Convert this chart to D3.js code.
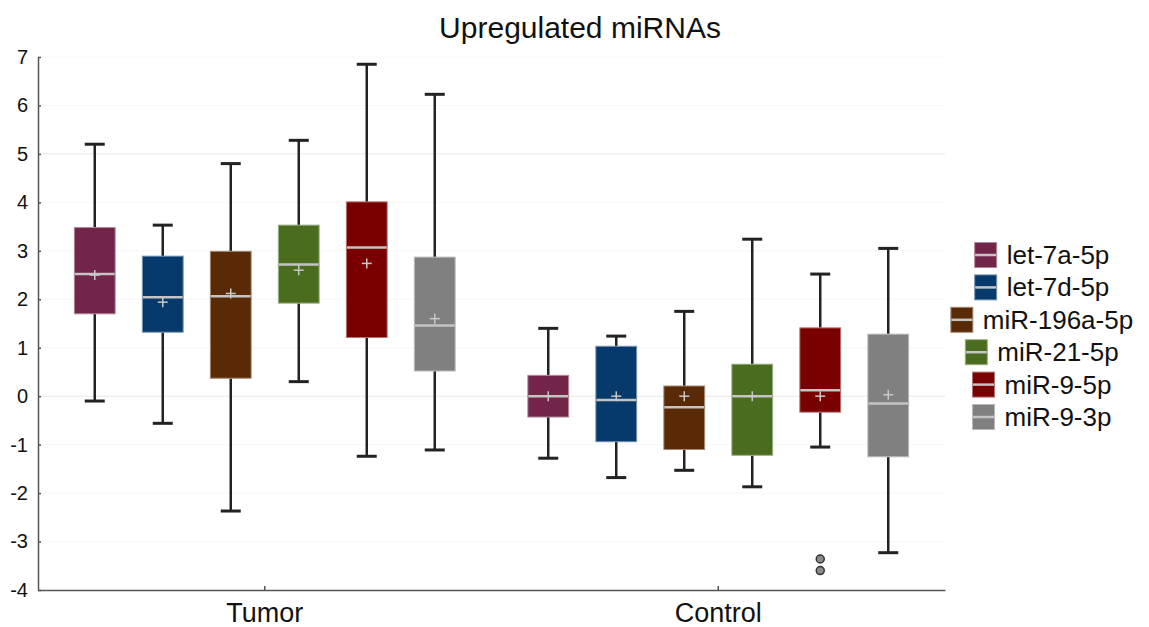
<!DOCTYPE html>
<html>
<head>
<meta charset="utf-8">
<title>Upregulated miRNAs</title>
<style>
body {
	margin: 0;
	background: #fff;
}

text {
	font-family: "Liberation Sans", Arial, sans-serif;
	fill: #111;
}

.axis path, .axis line {
	stroke: #555;
	stroke-width: 1.5px;
}

.whisker {
	stroke: #222;
	stroke-width: 2.5px;
}

.cap {
	stroke: #222;
	stroke-width: 3px;
}

.median {
	stroke: #c4c4c4;
	stroke-width: 2.5px;
}

.mean {
	stroke: #c8c8c8;
	stroke-width: 1.5px;
}
</style>
</head>
<body>
	<script type="text/javascript"
		src="https://cdn.jsdelivr.net/npm/d3@7/dist/d3.min.js"></script>
	<div id="chart"></div>
	<script type="text/javascript">
		var groups = ["Tumor", "Control"];
		var mirnas = ["let-7a-5p", "let-7d-5p", "miR-196a-5p", "miR-21-5p", "miR-9-5p", "miR-9-3p"];
		var colors = ["#722449", "#073a6c", "#592a05", "#4a6c1e", "#7a0000", "#808080"];

		// low whisker, q1, median, q3, high whisker, mean
		var tumorBoxes = [
			[-0.10, 1.70, 2.52, 3.48, 5.20, 2.50],
			[-0.56, 1.32, 2.04, 2.89, 3.53, 1.94],
			[-2.37, 0.37, 2.06, 2.99, 4.80, 2.12],
			[0.30, 1.92, 2.72, 3.53, 5.28, 2.60],
			[-1.24, 1.21, 3.07, 4.01, 6.85, 2.74],
			[-1.11, 0.52, 1.46, 2.87, 6.23, 1.60]
		];
		var controlBoxes = [
			[-1.28, -0.43, 0.00, 0.43, 1.40, 0.00],
			[-1.68, -0.94, -0.08, 1.03, 1.24, 0.00],
			[-1.53, -1.10, -0.23, 0.21, 1.75, 0.00],
			[-1.87, -1.22, 0.00, 0.66, 3.24, 0.00],
			[-1.05, -0.33, 0.12, 1.41, 2.52, 0.00],
			[-3.23, -1.25, -0.15, 1.28, 3.05, 0.03]
		];
		var outlierGroup = ["Control", "Control"];
		var outlierMirna = ["miR-9-5p", "miR-9-5p"];
		var outlierValue = [-3.36, -3.60];
		var yTicks = [-4, -3, -2, -1, 0, 1, 2, 3, 4, 5, 6, 7];

		var width = 1149, height = 627;
		var svg = d3.select("#chart").append("svg")
				.attr("width", width).attr("height", height);

		var y = d3.scaleLinear().domain([-4, 7]).range([590, 57]);
		var x = d3.scaleBand().domain(groups).range([38, 945]);
		var xs = d3.scaleBand().domain(mirnas).range([-204, 204])
				.paddingInner(0.4).paddingOuter(0.2);

		// grid
		svg.append("g").selectAll("line")
				.data(yTicks.filter(function(d) { return d > -4; }))
				.enter().append("line")
				.attr("x1", 38).attr("x2", 945)
				.attr("y1", function(d) { return y(d); })
				.attr("y2", function(d) { return y(d); })
				.style("stroke-width", 1)
				.style("stroke", function(d) {
					return (d == 5 || d == 0) ? "#e8e8e8" : "#f7f7f7";
				});

		// title
		svg.append("text").attr("x", 580).attr("y", 38)
				.attr("text-anchor", "middle")
				.style("font-size", "30px")
				.text("Upregulated miRNAs");

		// axes
		var yAxis = svg.append("g").attr("class", "axis")
				.attr("transform", "translate(38,0)")
				.call(d3.axisLeft(y).tickValues(yTicks).tickSizeInner(-3)
						.tickSizeOuter(0).tickPadding(10)
						.tickFormat(function(d) { return String(d); }));
		yAxis.selectAll("text").style("font-size", "20px")
				.style("font-family", "'Liberation Sans', Arial, sans-serif")
				.attr("fill", "#111");

		var xAxis = svg.append("g").attr("class", "axis")
				.attr("transform", "translate(0,590)")
				.call(d3.axisBottom(x).tickSizeInner(-4).tickSizeOuter(0)
						.tickPadding(13));
		xAxis.selectAll("text").style("font-size", "27px")
				.style("font-family", "'Liberation Sans', Arial, sans-serif")
				.attr("fill", "#111");

		// boxes
		function drawGroup(group, boxes) {
			var cx0 = x(group) + x.bandwidth() / 2;
			var bw = xs.bandwidth();
			boxes.forEach(function(b, i) {
				var name = mirnas[i];
				var left = cx0 + xs(name);
				var cx = left + bw / 2;
				var g = svg.append("g");
				var edge = d3.interpolateRgb(colors[i], "#ffffff")(0.45);

				g.append("line").attr("class", "whisker")
						.attr("x1", cx).attr("x2", cx)
						.attr("y1", y(b[3])).attr("y2", y(b[4]));
				g.append("line").attr("class", "whisker")
						.attr("x1", cx).attr("x2", cx)
						.attr("y1", y(b[1])).attr("y2", y(b[0]));
				g.append("line").attr("class", "cap")
						.attr("x1", cx - 10).attr("x2", cx + 10)
						.attr("y1", y(b[4])).attr("y2", y(b[4]));
				g.append("line").attr("class", "cap")
						.attr("x1", cx - 10).attr("x2", cx + 10)
						.attr("y1", y(b[0])).attr("y2", y(b[0]));

				g.append("rect").attr("x", left).attr("width", bw)
						.attr("y", y(b[3])).attr("height", y(b[1]) - y(b[3]))
						.style("fill", colors[i]).style("stroke", edge)
						.style("stroke-width", 1);
				g.append("line").attr("class", "median")
						.attr("x1", left + 0.5).attr("x2", left + bw - 0.5)
						.attr("y1", y(b[2])).attr("y2", y(b[2]));
				g.append("line").attr("class", "mean")
						.attr("x1", cx - 5).attr("x2", cx + 5)
						.attr("y1", y(b[5])).attr("y2", y(b[5]));
				g.append("line").attr("class", "mean")
						.attr("x1", cx).attr("x2", cx)
						.attr("y1", y(b[5]) - 5).attr("y2", y(b[5]) + 5);
			});
		}
		drawGroup("Tumor", tumorBoxes);
		drawGroup("Control", controlBoxes);

		// outliers
		svg.selectAll("circle.out").data(outlierValue).enter()
				.append("circle").attr("class", "out")
				.attr("cx", function(d, i) {
					return x(outlierGroup[i]) + x.bandwidth() / 2
							+ xs(outlierMirna[i]) + xs.bandwidth() / 2;
				})
				.attr("cy", function(d) { return y(d); })
				.attr("r", 4)
				.style("fill", "#8a8a8a").style("stroke", "#333")
				.style("stroke-width", 1.5);

		// legend
		var legend = svg.append("g");
		mirnas.forEach(function(name, i) {
			var cy = 255 + i * 32.4;
			var row = legend.append("g");
			var t = row.append("text").attr("y", cy + 9)
					.style("font-size", "26px").text(name);
			var tw = t.node().getComputedTextLength();
			var total = 22 + 10 + tw;
			var left = 1042 - total / 2;
			t.attr("x", left + 32);
			row.append("rect").attr("x", left).attr("y", cy - 12.5)
					.attr("width", 22).attr("height", 25)
					.style("fill", colors[i])
					.style("stroke", d3.interpolateRgb(colors[i], "#ffffff")(0.45))
					.style("stroke-width", 1);
			row.append("line").attr("x1", left + 0.5).attr("x2", left + 21.5)
					.attr("y1", cy).attr("y2", cy)
					.attr("class", "median");
		});
	</script>
</body>
</html>
